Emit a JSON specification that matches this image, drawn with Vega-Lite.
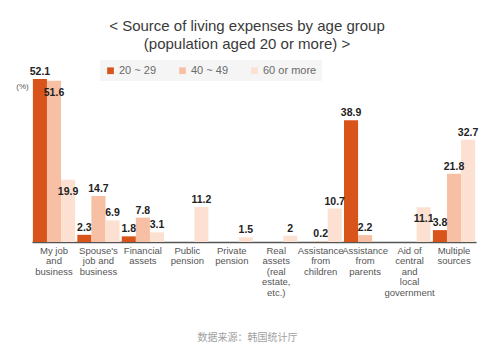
{
  "$schema": "https://vega.github.io/schema/vega-lite/v6.json",
  "width": 444,
  "height": 172,
  "autosize": "none",
  "padding": {"left": 32, "top": 70, "right": 24, "bottom": 113},
  "background": "white",
  "config": {"view": {"stroke": null}, "font": "Liberation Sans"},
  "title": {
    "text": ["< Source of living expenses by age group", "(population aged 20 or more) >"],
    "anchor": "middle",
    "dx": -7,
    "offset": 8,
    "fontSize": 15,
    "fontWeight": "normal",
    "color": "#3a3a3a",
    "lineHeight": 18,
    "font": "Liberation Sans"
  },
  "data": {
    "values": [
      {"source": "My job|and|business", "age": "20 ~ 29", "value": 52.1},
      {"source": "My job|and|business", "age": "40 ~ 49", "value": 51.6},
      {"source": "My job|and|business", "age": "60 or more", "value": 19.9},
      {"source": "Spouse's|job and|business", "age": "20 ~ 29", "value": 2.3},
      {"source": "Spouse's|job and|business", "age": "40 ~ 49", "value": 14.7},
      {"source": "Spouse's|job and|business", "age": "60 or more", "value": 6.9},
      {"source": "Financial|assets", "age": "20 ~ 29", "value": 1.8},
      {"source": "Financial|assets", "age": "40 ~ 49", "value": 7.8},
      {"source": "Financial|assets", "age": "60 or more", "value": 3.1},
      {"source": "Public|pension", "age": "60 or more", "value": 11.2},
      {"source": "Private|pension", "age": "60 or more", "value": 1.5},
      {"source": "Real|assets|(real|estate,|etc.)", "age": "60 or more", "value": 2},
      {"source": "Assistance|from|children", "age": "40 ~ 49", "value": 0.2},
      {"source": "Assistance|from|children", "age": "60 or more", "value": 10.7},
      {"source": "Assistance|from|parents", "age": "20 ~ 29", "value": 38.9},
      {"source": "Assistance|from|parents", "age": "40 ~ 49", "value": 2.2},
      {"source": "Aid of|central|and|local|government", "age": "60 or more", "value": 11.1},
      {"source": "Multiple|sources", "age": "20 ~ 29", "value": 3.8},
      {"source": "Multiple|sources", "age": "40 ~ 49", "value": 21.8},
      {"source": "Multiple|sources", "age": "60 or more", "value": 32.7}
    ]
  },
  "encoding": {
    "x": {
      "field": "source",
      "type": "nominal",
      "sort": null,
      "scale": {
        "domain": ["My job|and|business", "Spouse's|job and|business", "Financial|assets", "Public|pension", "Private|pension", "Real|assets|(real|estate,|etc.)", "Assistance|from|children", "Assistance|from|parents", "Aid of|central|and|local|government", "Multiple|sources"],
        "paddingInner": 0.05,
        "paddingOuter": 0.02
      },
      "axis": {
        "labelExpr": "split(datum.label, '|')",
        "labelAngle": 0,
        "labelFontSize": 9.5,
        "labelFont": "Liberation Sans",
        "labelColor": "#555555",
        "labelLineHeight": 10.5,
        "labelPadding": 3,
        "labelBaseline": "top",
        "labelLimit": 0,
        "ticks": false,
        "domainColor": "#555555",
        "domainWidth": 1.5,
        "title": "数据来源：韩国统计厅",
        "titleFont": "Noto Sans CJK SC",
        "titleFontSize": 10,
        "titleFontWeight": "normal",
        "titleColor": "#a0a0a0",
        "titleX": 215,
        "titleY": 95,
        "titleAnchor": "middle",
        "titleBaseline": "middle"
      }
    },
    "xOffset": {
      "field": "age",
      "type": "nominal",
      "scale": {"domain": ["20 ~ 29", "40 ~ 49", "60 or more"], "paddingInner": 0, "paddingOuter": 0}
    },
    "y": {
      "field": "value",
      "type": "quantitative",
      "scale": {"domain": [0, 55], "nice": false},
      "axis": {
        "domain": false,
        "ticks": false,
        "labels": false,
        "grid": false,
        "title": "(%)",
        "titleAngle": 0,
        "titleX": -10,
        "titleY": 16,
        "titleAlign": "center",
        "titleBaseline": "middle",
        "titleFontSize": 8,
        "titleFontWeight": "normal",
        "titleColor": "#555555"
      }
    }
  },
  "layer": [
    {
      "mark": {"type": "bar"},
      "encoding": {
        "color": {
          "field": "age",
          "type": "nominal",
          "scale": {"domain": ["20 ~ 29", "40 ~ 49", "60 or more"], "range": ["#d9541a", "#f7bfa3", "#fce1d3"]},
          "legend": {
            "title": null,
            "orient": "none",
            "direction": "horizontal",
            "legendX": 68,
            "legendY": -10,
            "fillColor": "#f5f5f5",
            "padding": 5,
            "symbolType": "square",
            "symbolSize": 45,
            "symbolStrokeWidth": 0,
            "labelFontSize": 11,
            "labelColor": "#6a6a6a",
            "labelFont": "Liberation Sans",
            "columnPadding": 20,
            "labelOffset": 3
          }
        }
      }
    },
    {
      "transform": [
        {"filter": {"not": {"or": [
          {"and": [{"field": "source", "equal": "My job|and|business"}, {"field": "age", "oneOf": ["40 ~ 49", "60 or more"]}]},
          {"and": [{"field": "source", "equal": "Aid of|central|and|local|government"}, {"field": "age", "equal": "60 or more"}]}
        ]}}}
      ],
      "mark": {"type": "text", "dy": -7, "fontSize": 10.5, "fontWeight": "bold", "color": "#222222", "font": "Liberation Sans"},
      "encoding": {
        "text": {"field": "value", "type": "quantitative"}
      }
    },
    {
      "transform": [
        {"filter": {"or": [
          {"and": [{"field": "source", "equal": "My job|and|business"}, {"field": "age", "oneOf": ["40 ~ 49", "60 or more"]}]},
          {"and": [{"field": "source", "equal": "Aid of|central|and|local|government"}, {"field": "age", "equal": "60 or more"}]}
        ]}}
      ],
      "mark": {"type": "text", "dy": 12, "fontSize": 10.5, "fontWeight": "bold", "color": "#222222", "font": "Liberation Sans"},
      "encoding": {
        "text": {"field": "value", "type": "quantitative"}
      }
    }
  ]
}
